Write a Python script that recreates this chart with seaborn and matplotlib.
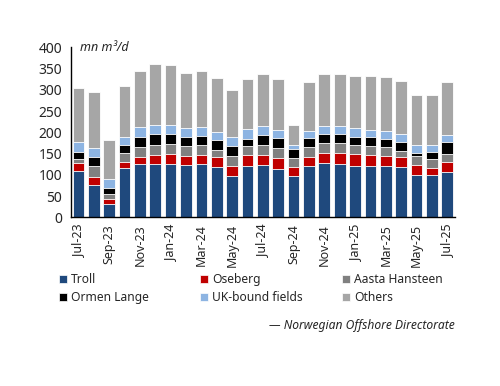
import matplotlib
matplotlib.use('Agg')
import matplotlib.pyplot as plt
from matplotlib.patches import Patch
import numpy as np
import pandas as pd
import seaborn as sns

months = ['Jul-23', 'Aug-23', 'Sep-23', 'Oct-23', 'Nov-23', 'Dec-23',
          'Jan-24', 'Feb-24', 'Mar-24', 'Apr-24', 'May-24', 'Jun-24',
          'Jul-24', 'Aug-24', 'Sep-24', 'Oct-24', 'Nov-24', 'Dec-24',
          'Jan-25', 'Feb-25', 'Mar-25', 'Apr-25', 'May-25', 'Jun-25', 'Jul-25']

troll = [110, 75, 32, 117, 125, 125, 125, 123, 125, 118, 97, 121, 124,
         113, 97, 121, 127, 125, 121, 121, 121, 119, 100, 99, 107]
oseberg = [18, 21, 11, 12, 17, 21, 23, 21, 21, 25, 23, 25, 22,
           26, 22, 21, 24, 26, 27, 25, 24, 24, 24, 18, 24]
aasta = [10, 25, 13, 23, 23, 25, 24, 23, 23, 15, 24, 21, 25,
         25, 20, 23, 24, 24, 22, 22, 20, 14, 20, 20, 19]
ormen = [15, 22, 12, 18, 25, 24, 24, 22, 23, 23, 23, 18, 22,
         22, 22, 21, 21, 20, 19, 21, 20, 21, 7, 16, 28]
uk = [24, 21, 23, 19, 22, 23, 22, 21, 21, 20, 22, 23, 22,
      20, 10, 18, 18, 19, 20, 17, 19, 17, 19, 17, 16]
others = [128, 130, 92, 120, 132, 143, 140, 130, 131, 126, 111, 117, 122,
          119, 47, 115, 124, 124, 124, 127, 125, 125, 118, 117, 125]

names = ['Troll', 'Oseberg', 'Aasta Hansteen', 'Ormen Lange', 'UK-bound fields', 'Others']
colors = ['#1F497D', '#C00000', '#808080', '#000000', '#8DB4E2', '#A6A6A6']

df = pd.DataFrame({'month': months, 'Troll': troll, 'Oseberg': oseberg,
                   'Aasta Hansteen': aasta, 'Ormen Lange': ormen,
                   'UK-bound fields': uk, 'Others': others})
cum = df[names].cumsum(axis=1)
cum['month'] = months

sns.set_style('white')
plt.rcParams['font.family'] = ['Noto Sans', 'DejaVu Sans']

fig = plt.figure(figsize=(5, 3.86), dpi=100)
ax = fig.add_axes([0.1414, 0.437, 0.7686, 0.4405])

# draw cumulative totals from the top down so each stack shows through
for name, c in zip(names[::-1], colors[::-1]):
    sns.barplot(data=cum, x='month', y=name, color=c, saturation=1,
                width=0.76, edgecolor='white', linewidth=0.6, ax=ax)

ax.set_xlim(-0.5, 24.5)
ax.set_ylim(0, 400)
ax.set_yticks(np.arange(0, 401, 50))
ax.set_xticks(range(0, 25, 2))
ax.set_xticklabels(months[::2], rotation=90)
ax.set_xticks(np.arange(-0.5, 24, 2), minor=True)
ax.tick_params(axis='x', which='major', length=0, pad=5, labelsize=9)
ax.tick_params(axis='x', which='minor', length=4, width=1, direction='out', color='black')
ax.tick_params(axis='y', length=4, width=1, direction='out', color='black', labelsize=10, pad=2)
ax.set_xlabel('')
ax.set_ylabel('')
for s in ['top', 'right']:
    ax.spines[s].set_visible(False)
for s in ['left', 'bottom']:
    ax.spines[s].set_color('black')
    ax.spines[s].set_linewidth(1)

ax.text(0.025, 1.0, 'mn m³/d', transform=ax.transAxes, va='center', ha='left',
        fontsize=9, fontstyle='italic', fontweight='bold')

handles = [Patch(facecolor=c, edgecolor='white', linewidth=0.5) for c in colors]
xs = [0.118, 0.400, 0.684]
for i, x in enumerate(xs):
    fig.legend([handles[i], handles[i + 3]], [names[i], names[i + 3]],
               loc='upper left', bbox_to_anchor=(x, 0.292), frameon=False,
               fontsize=8.7, handlelength=0.7, handleheight=0.7,
               handletextpad=0.3, labelspacing=0.42, borderpad=0,
               borderaxespad=0)

fig.text(0.91, 0.158, '— Norwegian Offshore Directorate', ha='right', va='center',
         fontsize=8.7, fontstyle='italic')

fig.savefig('out.png', dpi=100)
